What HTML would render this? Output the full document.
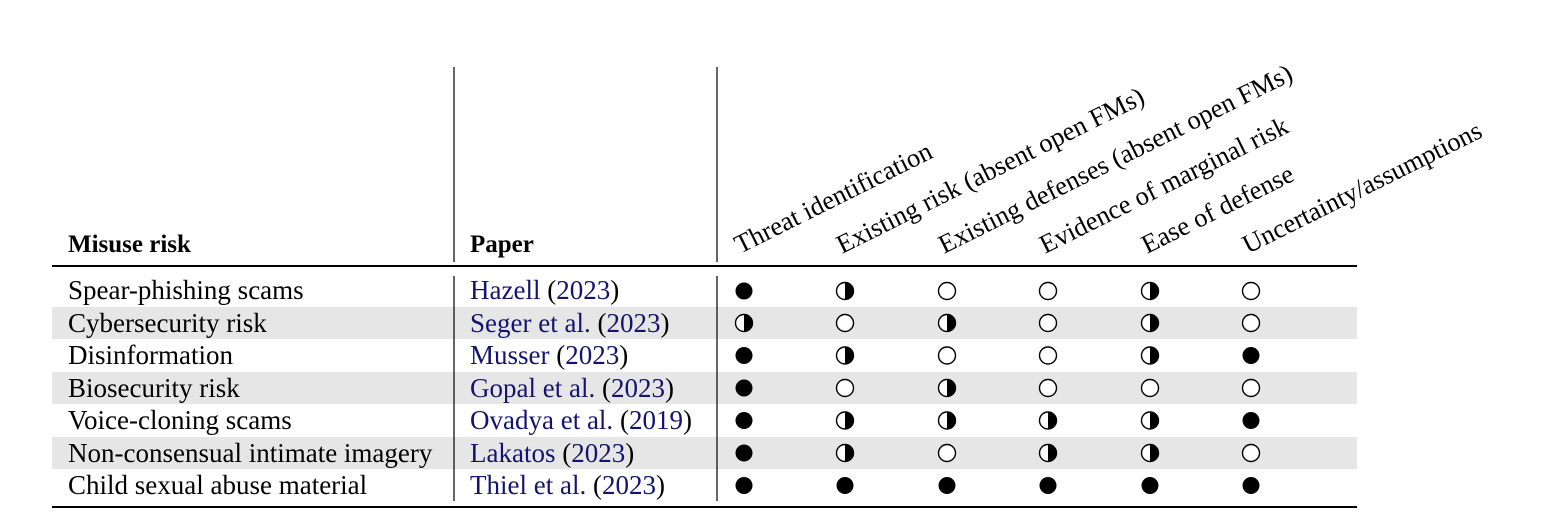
<!DOCTYPE html>
<html><head><meta charset="utf-8"><style>
html,body{margin:0;padding:0;background:#fff;}
body{width:1554px;height:530px;position:relative;overflow:hidden;font-family:"Liberation Serif",serif;}
</style></head><body>
<svg width="1554" height="530" xmlns="http://www.w3.org/2000/svg" style="position:absolute;left:0;top:0">
<defs>
<g id="F"><circle r="8.5" fill="#000"/></g>
<g id="E"><circle r="8.5" fill="#fff" stroke="#000" stroke-width="1.4"/></g>
<g id="H"><circle r="8.5" fill="#fff" stroke="#000" stroke-width="1.4"/><path d="M0,-8.5 A8.5,8.5 0 0 1 0,8.5 Z" fill="#000"/></g>
</defs>
<rect x="52" y="307" width="1305" height="32" fill="#e6e6e6"/>
<rect x="52" y="372" width="1305" height="32" fill="#e6e6e6"/>
<rect x="52" y="437" width="1305" height="32" fill="#e6e6e6"/>
<line x1="52" y1="266" x2="1357" y2="266" stroke="#000" stroke-width="2"/>
<line x1="52" y1="507" x2="1357" y2="507" stroke="#000" stroke-width="2"/>
<line x1="454" y1="67" x2="454" y2="262" stroke="#000" stroke-width="1.2"/>
<line x1="454" y1="276" x2="454" y2="501" stroke="#000" stroke-width="1.2"/>
<line x1="717" y1="67" x2="717" y2="262" stroke="#000" stroke-width="1.2"/>
<line x1="717" y1="276" x2="717" y2="501" stroke="#000" stroke-width="1.2"/>
<g font-family="Liberation Serif, serif" font-size="27">
<text x="68" y="252" font-weight="bold" font-size="25">Misuse risk</text>
<text x="470" y="252" font-weight="bold" font-size="25">Paper</text>
<g transform="translate(740,254) rotate(-26.5)"><text font-size="26.5">Threat identification</text></g>
<g transform="translate(842,254) rotate(-26.5)"><text font-size="26.5">Existing risk (absent open FMs)</text></g>
<g transform="translate(944,254) rotate(-26.5)"><text font-size="26.5">Existing defenses (absent open FMs)</text></g>
<g transform="translate(1045,254) rotate(-26.5)"><text font-size="26.5">Evidence of marginal risk</text></g>
<g transform="translate(1147,254) rotate(-26.5)"><text font-size="26.5">Ease of defense</text></g>
<g transform="translate(1248,254) rotate(-26.5)"><text font-size="26.5">Uncertainty/assumptions</text></g>
<text x="68" y="299">Spear-phishing scams</text>
<text x="68" y="332">Cybersecurity risk</text>
<text x="68" y="364">Disinformation</text>
<text x="68" y="397">Biosecurity risk</text>
<text x="68" y="429">Voice-cloning scams</text>
<text x="68" y="462">Non-consensual intimate imagery</text>
<text x="68" y="494">Child sexual abuse material</text>
<g fill="#141470">
<text x="470" y="299">Hazell <tspan fill="#000">(</tspan>2023<tspan fill="#000">)</tspan></text>
<text x="470" y="332">Seger et al. <tspan fill="#000">(</tspan>2023<tspan fill="#000">)</tspan></text>
<text x="470" y="364">Musser <tspan fill="#000">(</tspan>2023<tspan fill="#000">)</tspan></text>
<text x="470" y="397">Gopal et al. <tspan fill="#000">(</tspan>2023<tspan fill="#000">)</tspan></text>
<text x="470" y="429">Ovadya et al. <tspan fill="#000">(</tspan>2019<tspan fill="#000">)</tspan></text>
<text x="470" y="462">Lakatos <tspan fill="#000">(</tspan>2023<tspan fill="#000">)</tspan></text>
<text x="470" y="494">Thiel et al. <tspan fill="#000">(</tspan>2023<tspan fill="#000">)</tspan></text>
</g>
</g>
<use href="#F" x="744" y="291"/><use href="#H" x="845" y="291"/><use href="#E" x="947" y="291"/><use href="#E" x="1048" y="291"/><use href="#H" x="1150" y="291"/><use href="#E" x="1251" y="291"/>
<use href="#H" x="744" y="323"/><use href="#E" x="845" y="323"/><use href="#H" x="947" y="323"/><use href="#E" x="1048" y="323"/><use href="#H" x="1150" y="323"/><use href="#E" x="1251" y="323"/>
<use href="#F" x="744" y="355.5"/><use href="#H" x="845" y="355.5"/><use href="#E" x="947" y="355.5"/><use href="#E" x="1048" y="355.5"/><use href="#H" x="1150" y="355.5"/><use href="#F" x="1251" y="355.5"/>
<use href="#F" x="744" y="388"/><use href="#E" x="845" y="388"/><use href="#H" x="947" y="388"/><use href="#E" x="1048" y="388"/><use href="#E" x="1150" y="388"/><use href="#E" x="1251" y="388"/>
<use href="#F" x="744" y="420.5"/><use href="#H" x="845" y="420.5"/><use href="#H" x="947" y="420.5"/><use href="#H" x="1048" y="420.5"/><use href="#H" x="1150" y="420.5"/><use href="#F" x="1251" y="420.5"/>
<use href="#F" x="744" y="453"/><use href="#H" x="845" y="453"/><use href="#E" x="947" y="453"/><use href="#H" x="1048" y="453"/><use href="#H" x="1150" y="453"/><use href="#E" x="1251" y="453"/>
<use href="#F" x="744" y="485.5"/><use href="#F" x="845" y="485.5"/><use href="#F" x="947" y="485.5"/><use href="#F" x="1048" y="485.5"/><use href="#F" x="1150" y="485.5"/><use href="#F" x="1251" y="485.5"/>
</svg>
</body></html>
